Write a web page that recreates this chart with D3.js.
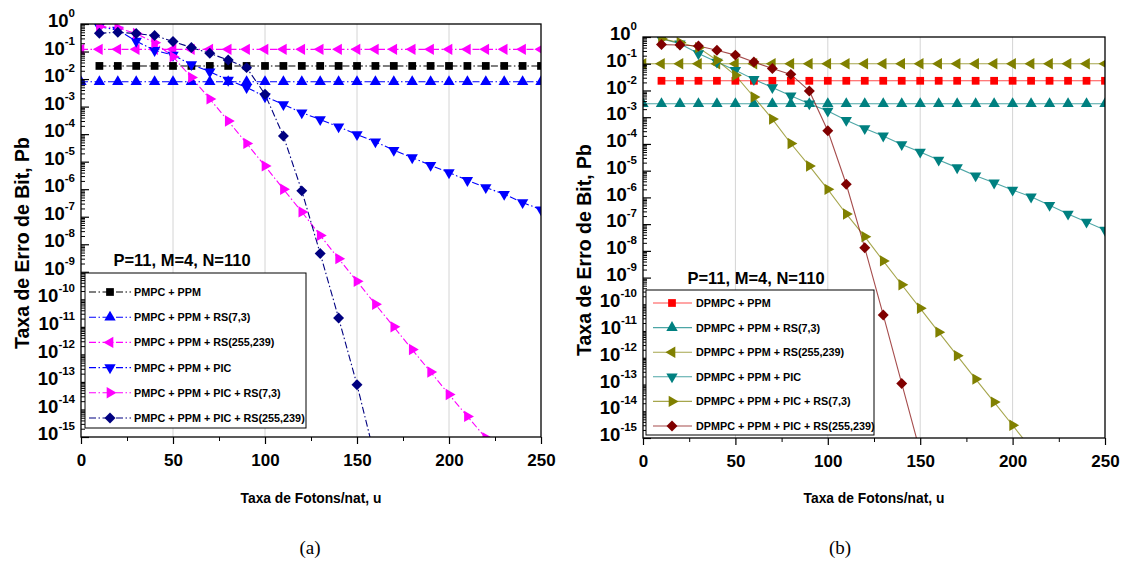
<!DOCTYPE html>
<html><head><meta charset="utf-8">
<script src="https://cdn.jsdelivr.net/npm/d3@7"></script>
<style>body{margin:0;background:#fff;} svg{display:block;}</style>
</head><body>
<svg id="chart" width="1127" height="561"></svg>
<script>
// ---------- DATA ----------
const xTicks = [0, 50, 100, 150, 200, 250];
const xMinorTicks = [25, 75, 125, 175, 225];
const yDecades = [0, -1, -2, -3, -4, -5, -6, -7, -8, -9, -10, -11, -12, -13, -14, -15];

const xFrom0 = [0,10,20,30,40,50,60,70,80,90,100,110,120,130,140,150,160,170,180,190,200,210,220,230,240,250];
const xFrom10 = [10,20,30,40,50,60,70,80,90,100,110,120,130,140,150,160,170,180,190,200,210,220,230,240,250];
const xTo220 = [10,20,30,40,50,60,70,80,90,100,110,120,130,140,150,160,170,180,190,200,210,220];
const xTo160 = [10,20,30,40,50,60,70,80,90,100,110,120,130,140,150,160];
const xTo210 = [10,20,30,40,50,60,70,80,90,100,110,120,130,140,150,160,170,180,190,200,210];
const xTo150 = [10,20,30,40,50,60,70,80,90,100,110,120,130,140,150];

// (a) left panel
const namesA = ["PMPC + PPM", "PMPC + PPM + RS(7,3)", "PMPC + PPM + RS(255,239)",
  "PMPC + PPM + PIC", "PMPC + PPM + PIC + RS(7,3)", "PMPC + PPM + PIC + RS(255,239)"];
const a_ppm = [0.03,0.03,0.03,0.03,0.03,0.03,0.03,0.03,0.03,0.03,0.03,0.03,0.03,0.03,0.03,0.03,0.03,0.03,0.03,0.03,0.03,0.03,0.03,0.03,0.03];
const a_rs73 = [0.008,0.008,0.008,0.008,0.008,0.008,0.008,0.008,0.008,0.008,0.008,0.008,0.008,0.008,0.008,0.008,0.008,0.008,0.008,0.008,0.008,0.008,0.008,0.008,0.008,0.008];
const a_rs255 = [0.12,0.12,0.12,0.12,0.12,0.12,0.12,0.12,0.12,0.12,0.12,0.12,0.12,0.12,0.12,0.12,0.12,0.12,0.12,0.12,0.12,0.12,0.12,0.12,0.12,0.12];
const a_pic = [0.8,0.6,0.24,0.11,0.074,0.034,0.0185,0.0092,0.005,0.0023,0.0012,6e-4,3.4e-4,1.85e-4,9.7e-5,5.3e-5,2.6e-5,1.4e-5,7.4e-6,4e-6,2.1e-6,1.15e-6,6.6e-7,3.3e-7,1.8e-7];
const a_picRs73 = [0.8,0.72,0.45,0.21,0.065,0.0115,0.0019,3e-4,4.6e-5,7e-6,1e-6,1.5e-7,2.1e-8,3e-9,4.5e-10,6.6e-11,1e-11,1.5e-12,2.3e-13,3.5e-14,5.6e-15,9.3e-16];
const a_picRs255 = [0.46,0.5,0.45,0.38,0.23,0.14,0.086,0.049,0.026,0.0028,8.5e-5,8.7e-7,4.6e-9,2.1e-11,7.9e-14,1.6e-16];

// (b) right panel
const namesB = ["DPMPC + PPM", "DPMPC + PPM + RS(7,3)", "DPMPC + PPM + RS(255,239)",
  "DPMPC + PPM + PIC", "DPMPC + PPM + PIC + RS(7,3)", "DPMPC + PPM + PIC + RS(255,239)"];
const b_ppm = [0.023,0.023,0.023,0.023,0.023,0.023,0.023,0.023,0.023,0.023,0.023,0.023,0.023,0.023,0.023,0.023,0.023,0.023,0.023,0.023,0.023,0.023,0.023,0.023,0.023];
const b_rs73 = [0.0032,0.0032,0.0032,0.0032,0.0032,0.0032,0.0032,0.0032,0.0032,0.0032,0.0032,0.0032,0.0032,0.0032,0.0032,0.0032,0.0032,0.0032,0.0032,0.0032,0.0032,0.0032,0.0032,0.0032,0.0032,0.0032];
const b_rs255 = [0.1,0.1,0.1,0.1,0.1,0.1,0.1,0.1,0.1,0.1,0.1,0.1,0.1,0.1,0.1,0.1,0.1,0.1,0.1,0.1,0.1,0.1,0.1,0.1,0.1,0.1];
const b_pic = [0.87,0.56,0.24,0.117,0.057,0.026,0.013,0.0063,0.0032,0.0017,7.7e-4,3.8e-4,2e-4,9.5e-5,5e-5,2.5e-5,1.3e-5,6.5e-6,3.5e-6,1.9e-6,1.05e-6,5.1e-7,2.4e-7,1.2e-7,6e-8];
const b_picRs73 = [0.85,0.62,0.4,0.135,0.037,0.0057,8.5e-4,1.04e-4,1.5e-5,2e-6,2.4e-7,3.4e-8,4.2e-9,5.4e-10,7.1e-11,9.1e-12,1.2e-12,1.6e-13,2.2e-14,3e-15,4e-16];
const b_picRs255 = [0.52,0.5,0.46,0.32,0.21,0.117,0.066,0.04,0.0096,3.1e-4,3.1e-6,1.3e-8,4e-11,1.1e-13,3e-16];

const annotation = "P=11, M=4, N=110";
const yTitle = "Taxa de Erro de Bit, Pb";
const xTitle = "Taxa de Fotons/nat, u";

// ---------- DRAW ----------
const svg = d3.select("#chart");
const FONT = "'Liberation Sans', Arial, sans-serif";

function symbolPath(shape) {
  if (shape === "square") return d3.symbol(d3.symbolSquare, 60)();
  if (shape === "diamond") return d3.symbol(d3.symbolSquare, 60)();
  return d3.symbol(d3.symbolTriangle, 56)();
}
function symbolRot(shape) {
  return {square: 0, diamond: 45, up: 0, down: 180, left: -90, right: 90}[shape];
}

function drawPanel(cfg) {
  const g = svg.append("g");
  const x = d3.scaleLinear().domain([0, 250]).range([cfg.x0, cfg.x1]);
  const y = d3.scaleLog().domain([1, 1e-15]).range([cfg.y0, cfg.y1]);

  // grid
  g.append("g").selectAll("line").data(xTicks.slice(1, -1)).join("line")
    .attr("x1", d => x(d)).attr("x2", d => x(d))
    .attr("y1", cfg.y0).attr("y2", cfg.y1)
    .attr("stroke", "#d4d4d4").attr("stroke-width", 1);

  // clip
  const cid = "clip" + cfg.id;
  svg.append("clipPath").attr("id", cid).append("rect")
    .attr("x", cfg.x0).attr("y", cfg.y0).attr("width", cfg.x1 - cfg.x0).attr("height", cfg.y1 - cfg.y0);
  const plot = g.append("g").attr("clip-path", `url(#${cid})`);

  const line = d3.line().x(d => x(d[0])).y(d => y(d[1]));
  cfg.series.forEach(s => {
    const pts = s.xs.map((v, i) => [v, s.ys[i]]);
    plot.append("path").datum(pts).attr("d", line)
      .attr("fill", "none").attr("stroke", s.color).attr("stroke-width", 1.1)
      .attr("stroke-opacity", cfg.lineOpacity)
      .attr("stroke-dasharray", cfg.dash);
  });
  cfg.series.forEach(s => {
    const pts = s.xs.map((v, i) => [v, s.ys[i]]);
    plot.append("g").selectAll("path").data(pts).join("path")
      .attr("d", symbolPath(s.shape))
      .attr("transform", d => `translate(${x(d[0])},${y(d[1])}) rotate(${symbolRot(s.shape)})`)
      .attr("fill", s.color);
  });

  // x axis
  const xAx = g.append("g").attr("transform", `translate(0,${cfg.y1})`)
    .call(d3.axisBottom(x).tickValues(xTicks).tickSize(7).tickPadding(10).tickFormat(d3.format("d")));
  xAx.select(".domain").remove();
  xAx.selectAll("line").attr("stroke", "#000").attr("stroke-width", 1.2);
  xAx.selectAll("text").attr("font-family", FONT).attr("font-size", 17).attr("font-weight", "bold").attr("fill", "#000");
  const xMin = g.append("g").attr("transform", `translate(0,${cfg.y1})`)
    .call(d3.axisBottom(x).tickValues(xMinorTicks).tickSize(4).tickFormat(""));
  xMin.select(".domain").remove();
  xMin.selectAll("line").attr("stroke", "#000").attr("stroke-width", 1);

  // y axis minor
  const minor = [];
  yDecades.forEach(e => { if (e > -15) for (let m = 2; m <= 9; m++) minor.push(m * Math.pow(10, e - 1)); });
  const yMin = g.append("g").attr("transform", `translate(${cfg.x0},0)`)
    .call(d3.axisLeft(y).tickValues(minor).tickSize(-4).tickFormat(""));
  yMin.select(".domain").remove();
  yMin.selectAll("line").attr("stroke", "#000").attr("stroke-width", 1);

  // y axis major
  const yAx = g.append("g").attr("transform", `translate(${cfg.x0},0)`)
    .call(d3.axisLeft(y).tickValues(yDecades.map(e => Math.pow(10, e))).tickSize(-8).tickPadding(6).tickFormat(""));
  yAx.select(".domain").remove();
  yAx.selectAll("line").attr("stroke", "#000").attr("stroke-width", 1.2);
  yAx.selectAll(".tick text").each(function(d, i) {
    const t = d3.select(this).attr("dy", "0.26em").attr("font-family", FONT).attr("font-weight", "bold").attr("fill", "#000");
    t.append("tspan").attr("font-size", 18.5).text("10");
    t.append("tspan").attr("font-size", 11.5).attr("dy", -10).text(String(yDecades[i]));
  });

  // frame
  g.append("rect").attr("x", cfg.x0).attr("y", cfg.y0)
    .attr("width", cfg.x1 - cfg.x0).attr("height", cfg.y1 - cfg.y0)
    .attr("fill", "none").attr("stroke", "#000").attr("stroke-width", 1.3);

  // annotation
  g.append("text").attr("x", cfg.annX).attr("y", cfg.annY).attr("text-anchor", "middle")
    .attr("font-family", FONT).attr("font-size", 16.5).attr("font-weight", "bold").attr("fill", "#000").text(annotation);

  // legend
  const L = cfg.legend;
  g.append("rect").attr("x", L.x).attr("y", L.y).attr("width", L.w).attr("height", L.h)
    .attr("fill", "#fff").attr("stroke", "#000").attr("stroke-width", 1);
  cfg.series.forEach((s, i) => {
    const yy = L.firstY + i * L.step;
    g.append("line").attr("x1", L.lx1).attr("x2", L.lx2).attr("y1", yy).attr("y2", yy)
      .attr("stroke", s.color).attr("stroke-width", 1.1).attr("stroke-opacity", cfg.lineOpacity)
      .attr("stroke-dasharray", cfg.dash);
    g.append("path").attr("d", symbolPath(s.shape))
      .attr("transform", `translate(${L.mx},${yy}) rotate(${symbolRot(s.shape)})`).attr("fill", s.color);
    g.append("text").attr("x", L.tx).attr("y", yy + 4)
      .attr("font-family", FONT).attr("font-size", 10.8).attr("font-weight", "bold").attr("fill", "#000")
      .text(s.name);
  });

  // titles
  g.append("text").attr("transform", `translate(${cfg.yTitleX},${cfg.yTitleY}) rotate(-90)`)
    .attr("text-anchor", "middle").attr("font-family", FONT).attr("font-size", 19.5).attr("font-weight", "bold")
    .attr("fill", "#000").text(yTitle);
  g.append("text").attr("x", (cfg.x0 + cfg.x1) / 2).attr("y", 503).attr("text-anchor", "middle")
    .attr("font-family", FONT).attr("font-size", 13.8).attr("font-weight", "bold").attr("fill", "#000").text(xTitle);
  g.append("text").attr("x", cfg.capX).attr("y", 554).attr("text-anchor", "middle")
    .attr("font-family", "'Liberation Serif', 'Times New Roman', serif").attr("font-size", 19).attr("fill", "#000").text(cfg.caption);
}

drawPanel({
  id: "a", x0: 81, x1: 541, y0: 24, y1: 437, dash: "7,2.5,1.5,2.5", lineOpacity: 1,
  series: [
    {name: namesA[0], xs: xFrom10, ys: a_ppm, color: "#000000", shape: "square"},
    {name: namesA[1], xs: xFrom0, ys: a_rs73, color: "#0000ff", shape: "up"},
    {name: namesA[2], xs: xFrom0, ys: a_rs255, color: "#ff00ff", shape: "left"},
    {name: namesA[3], xs: xFrom10, ys: a_pic, color: "#0000ff", shape: "down"},
    {name: namesA[4], xs: xTo220, ys: a_picRs73, color: "#ff00ff", shape: "right"},
    {name: namesA[5], xs: xTo160, ys: a_picRs255, color: "#000080", shape: "diamond"}
  ],
  legend: {x: 85, y: 273, w: 221, h: 155, firstY: 292, step: 25.2, lx1: 89, lx2: 131, mx: 110, tx: 134},
  annX: 182, annY: 266, yTitleX: 29, yTitleY: 243, capX: 310, caption: "(a)"
});

drawPanel({
  id: "b", x0: 643, x1: 1105, y0: 37, y1: 438, dash: null, lineOpacity: 0.7,
  series: [
    {name: namesB[0], xs: xFrom10, ys: b_ppm, color: "#ff0000", shape: "square"},
    {name: namesB[1], xs: xFrom0, ys: b_rs73, color: "#008080", shape: "up"},
    {name: namesB[2], xs: xFrom0, ys: b_rs255, color: "#808000", shape: "left"},
    {name: namesB[3], xs: xFrom10, ys: b_pic, color: "#008080", shape: "down"},
    {name: namesB[4], xs: xTo210, ys: b_picRs73, color: "#808000", shape: "right"},
    {name: namesB[5], xs: xTo150, ys: b_picRs255, color: "#800000", shape: "diamond"}
  ],
  legend: {x: 646, y: 290, w: 228, h: 145, firstY: 303, step: 24.6, lx1: 653, lx2: 692, mx: 672, tx: 696},
  annX: 756, annY: 284, yTitleX: 591, yTitleY: 250, capX: 840, caption: "(b)"
});
</script>
</body></html>
